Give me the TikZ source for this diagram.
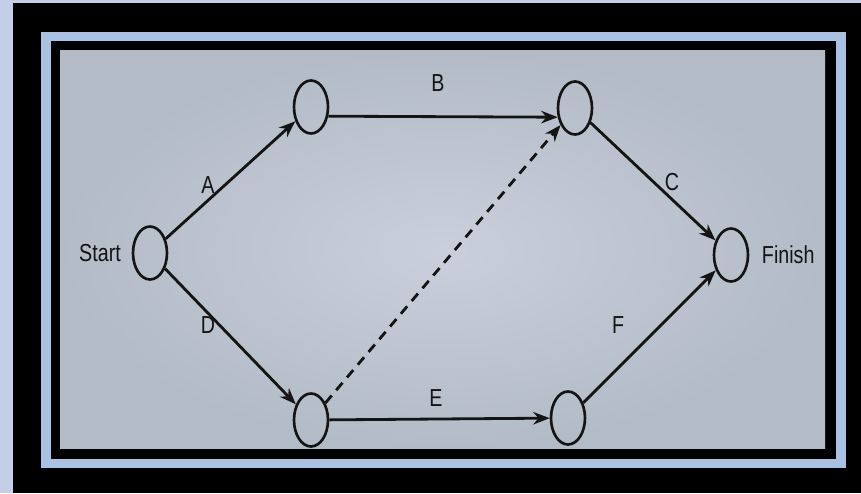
\documentclass[tikz,border=0pt]{standalone}
\usepackage{fontspec}
\setmainfont{Liberation Sans}[FakeStretch=0.8]
\usetikzlibrary{arrows.meta, shapes.geometric}
\definecolor{glare}{HTML}{C4CEE6}
\definecolor{frameblue}{HTML}{A9C2E4}
\definecolor{paper}{HTML}{C9D0DB}
\definecolor{paperdk}{HTML}{B3BBC7}
\definecolor{ink}{HTML}{141414}

\begin{document}
\begin{tikzpicture}[x=0.02cm, y=-0.02cm,
  >={Stealth[length=3.3mm, width=2.5mm]},
  event/.style={ellipse, draw=ink, line width=1.5pt,
    minimum width=0.68cm, minimum height=1.06cm, inner sep=0pt},
  activity/.style={draw=ink, line width=1.6pt, ->},
  dummy/.style={activity, dash pattern=on 5.5pt off 4pt},
  lbl/.style={text=ink, font=\fontsize{14}{16}\selectfont, inner sep=1pt}]

% Background and frames
\fill[glare] (0,0) rectangle (861,493);
\fill[black] (13,3) rectangle (861,493);
\fill[frameblue] (41,32) rectangle (846,468);
\fill[black] (51,41) rectangle (836,459);
\shade[inner color=paper, outer color=paperdk] (60,51) rectangle (825,448);
\useasboundingbox (0,0) rectangle (861,493);

% --- Events ---
\node[event] (start) at (150,253) {};
\node[event] (na) at (311,107) {};
\node[event] (nb) at (575,108) {};
\node[event] (nd) at (311,420) {};
\node[event] (ne) at (568,418) {};
\node[event] (finish) at (731,255) {};

\node[lbl, left=5pt] (startlbl) at (start.west) {Start};
\node[lbl, right=6pt] (finishlbl) at (finish.east) {Finish};

% --- Activities ---
\draw[activity] (start) -- (na);
\draw[activity] (na.-28) -- (nb.208);
\draw[activity] (nb) -- (finish);
\draw[activity] (start) -- (nd);
\draw[activity] (nd) -- (ne);
\draw[activity] (ne) -- (finish);
\draw[dummy] (nd) -- (nb);

% --- Activity labels ---
\node[lbl] (lA) at (208,185) {A};
\node[lbl] (lB) at (438,83) {B};
\node[lbl] (lC) at (672,182) {C};
\node[lbl] (lD) at (208,325) {D};
\node[lbl] (lE) at (436,398) {E};
\node[lbl] (lF) at (618,325) {F};

\end{tikzpicture}
\end{document}
